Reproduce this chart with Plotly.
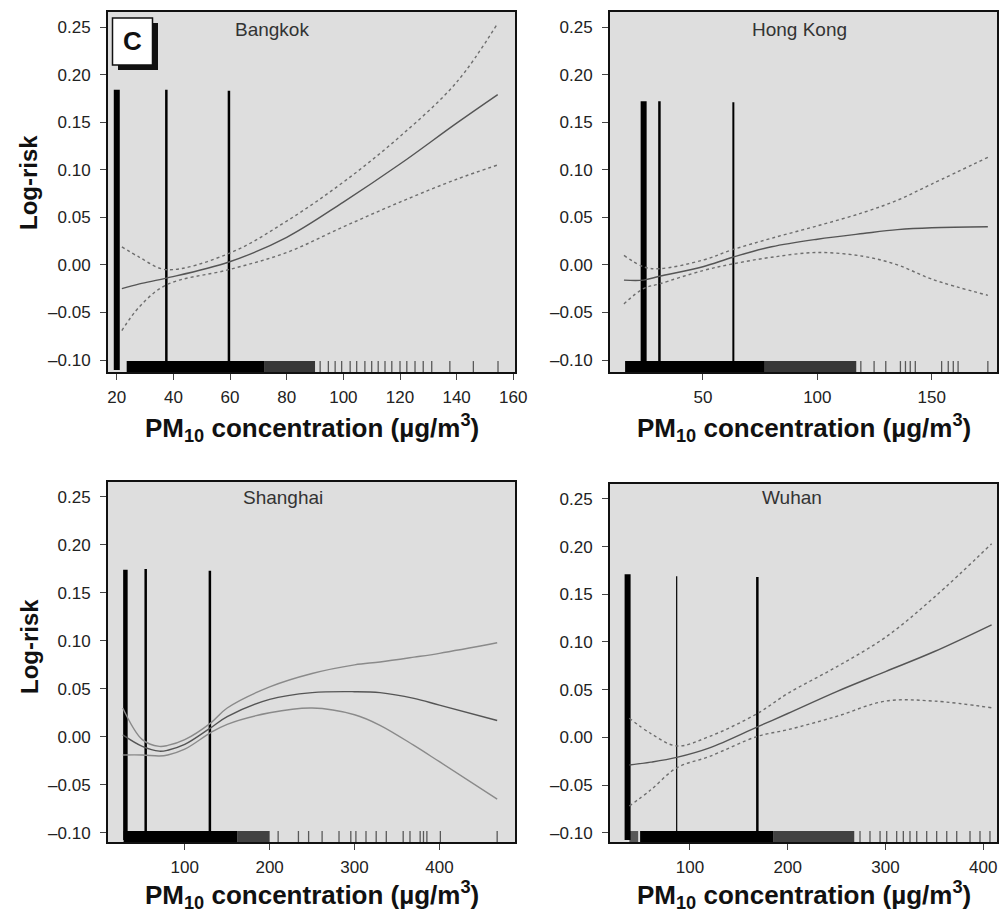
import plotly.graph_objects as go

W, H = 999, 917
FONT = "Liberation Sans, Arial, sans-serif"

cities = ["Bangkok", "Hong Kong", "Shanghai", "Wuhan"]

# ---- curve data (PM10 vs log-risk) ----
bkk_x = [21.8, 28, 37.5, 59.6, 80, 100, 120, 140, 154.5]
bkk_mid = [-0.025, -0.020, -0.014, 0.003, 0.029, 0.066, 0.106, 0.149, 0.179]
bkk_up = [0.019, 0.008, -0.005, 0.012, 0.046, 0.087, 0.135, 0.192, 0.254]
bkk_lo = [-0.069, -0.044, -0.021, -0.005, 0.013, 0.040, 0.066, 0.090, 0.105]

hk_x = [15.5, 24, 31, 50, 63, 80, 100, 120, 135, 150, 174.5]
hk_mid = [-0.016, -0.016, -0.012, -0.002, 0.008, 0.019, 0.027, 0.033, 0.037, 0.039, 0.040]
hk_up = [0.010, -0.002, -0.004, 0.005, 0.016, 0.028, 0.041, 0.055, 0.068, 0.085, 0.113]
hk_lo = [-0.041, -0.025, -0.020, -0.006, 0.001, 0.008, 0.013, 0.009, 0.000, -0.015, -0.032]

sh_x = [27, 50, 70, 80, 100, 130, 150, 200, 250, 300, 330, 370, 400, 468]
sh_mid = [0.002, -0.010, -0.015, -0.014, -0.008, 0.009, 0.021, 0.039, 0.046, 0.047, 0.046, 0.040, 0.033, 0.017]
sh_up = [0.030, -0.003, -0.010, -0.009, -0.003, 0.014, 0.030, 0.052, 0.066, 0.075, 0.078, 0.083, 0.087, 0.098]
sh_lo = [-0.019, -0.019, -0.020, -0.019, -0.013, 0.004, 0.013, 0.025, 0.030, 0.023, 0.012, -0.009, -0.026, -0.065]

wh_x = [38, 60, 86.4, 120, 168.9, 200, 250, 300, 350, 408.5]
wh_mid = [-0.029, -0.026, -0.021, -0.011, 0.011, 0.025, 0.048, 0.069, 0.090, 0.118]
wh_up = [0.020, 0.004, -0.009, 0.001, 0.025, 0.046, 0.074, 0.105, 0.147, 0.203]
wh_lo = [-0.072, -0.055, -0.032, -0.020, 0.001, 0.008, 0.022, 0.038, 0.038, 0.031]

# ---- vertical spike lines ----
bkk_vx = [20, 37.5, 59.6]
bkk_vtop = [0.184, 0.184, 0.183]
hk_vx = [24.1, 31.0, 63.3]
hk_vtop = [0.172, 0.172, 0.171]
sh_vx = [30.1, 54.0, 129.6]
sh_vtop = [0.174, 0.175, 0.173]
wh_vx = [36.2, 86.4, 168.9]
wh_vtop = [0.171, 0.169, 0.168]
vline_widths = {"Bangkok": [6, 2.5, 2.5], "Hong Kong": [6, 2.5, 2],
                "Shanghai": [4.5, 2.5, 2.5], "Wuhan": [6, 1.2, 2.5]}

# ---- rug data: dense bands (start, end, darkness) and individual ticks ----
bkk_bands = [(23.5, 72, 1.0), (72, 90, 0.75)]
bkk_rug = [91.8, 94.7, 97.1, 99.4, 102.4, 104.7, 107.6, 110, 112.3, 114.7, 117.1,
           120, 122.4, 125.3, 128.2, 131.2, 137.6, 145.9, 154.6]
hk_bands = [(16, 77, 1.0), (77, 117, 0.75)]
hk_rug = [119, 124.8, 129.9, 136.3, 138.5, 140.6, 142.8, 154.3, 157.2, 159.4, 161.5, 174.5]
sh_bands = [(28, 162, 1.0), (162, 200, 0.7)]
sh_rug = [210, 233.9, 245.9, 261.8, 281.7, 295.6, 301.6, 313.5, 325.5, 337.4, 357.3,
          365.3, 377.3, 381.2, 385.2, 401.1, 468]
wh_bands = [(38, 47, 0.6), (49, 185, 1.0), (185, 268, 0.7)]
wh_rug = [273.9, 284.1, 294.4, 301.2, 311.4, 318.2, 325, 331.9, 342.1, 352.3, 362.6,
          372.8, 386.4, 396.6, 406.8]

# ---- axes ----
y_ticks = [-0.10, -0.05, 0.00, 0.05, 0.10, 0.15, 0.20, 0.25]
y_ticktext = ["\u20130.10", "\u20130.05", "0.00", "0.05", "0.10", "0.15", "0.20", "0.25"]
x_ticks = {"Bangkok": [20, 40, 60, 80, 100, 120, 140, 160],
           "Hong Kong": [50, 100, 150],
           "Shanghai": [100, 200, 300, 400],
           "Wuhan": [100, 200, 300, 400]}
x_ranges = {"Bangkok": [16.9, 160.6], "Hong Kong": [9.4, 178.5],
            "Shanghai": [9.6, 489], "Wuhan": [18.2, 414]}
y_ranges = {"Bangkok": [-0.1126, 0.2658], "Hong Kong": [-0.1126, 0.2658],
            "Shanghai": [-0.1097, 0.2656], "Wuhan": [-0.1097, 0.2656]}

# pixel boxes (left, right, top, bottom)
boxes = {"Bangkok": (108, 515, 12, 372), "Hong Kong": (610, 997, 12, 372),
         "Shanghai": (108, 515, 482, 842), "Wuhan": (610, 997, 484, 842)}

data = {
    "Bangkok": (bkk_x, bkk_mid, bkk_up, bkk_lo, bkk_vx, bkk_vtop, bkk_bands, bkk_rug),
    "Hong Kong": (hk_x, hk_mid, hk_up, hk_lo, hk_vx, hk_vtop, hk_bands, hk_rug),
    "Shanghai": (sh_x, sh_mid, sh_up, sh_lo, sh_vx, sh_vtop, sh_bands, sh_rug),
    "Wuhan": (wh_x, wh_mid, wh_up, wh_lo, wh_vx, wh_vtop, wh_bands, wh_rug),
}

fig = go.Figure()
layout = dict(width=W, height=H, margin=dict(l=0, r=0, t=0, b=0, autoexpand=False),
              paper_bgcolor="white", showlegend=False, template="none")

ann = []
shapes = []

for i, c in enumerate(cities):
    k = "" if i == 0 else str(i + 1)
    xa, ya = "x" + k, "y" + k
    L, R, T, B = boxes[c]
    layout["xaxis" + k] = dict(
        domain=[L / W, R / W], range=x_ranges[c], anchor=ya, automargin=False,
        tickvals=x_ticks[c], ticks="outside", ticklen=6, tickwidth=1, tickcolor="#444",
        ticklabelstandoff=3,
        showline=True, linecolor="#111", linewidth=2, mirror=True,
        showgrid=False, zeroline=False,
        tickfont=dict(family=FONT, size=17, color="#222"))
    layout["yaxis" + k] = dict(
        domain=[1 - B / H, 1 - T / H], range=y_ranges[c], anchor=xa, automargin=False,
        tickvals=y_ticks, ticktext=y_ticktext, ticks="outside", ticklen=6,
        tickwidth=1, tickcolor="#444", ticklabelstandoff=6,
        showline=True, linecolor="#111", linewidth=2, mirror=True,
        showgrid=False, zeroline=False,
        tickfont=dict(family=FONT, size=17, color="#222"))

    xs, mid, up, lo, vx, vtop, bands, rug = data[c]
    ybot = y_ranges[c][0]
    rtop = ybot + 0.0115

    # rug bands
    for (a, b, alpha) in bands:
        fig.add_trace(go.Scatter(
            x=[a, b, b, a, a], y=[ybot, ybot, rtop, rtop, ybot], mode="lines",
            fill="toself", fillcolor=f"rgba(0,0,0,{alpha})", line=dict(width=0),
            xaxis=xa, yaxis=ya, hoverinfo="skip"))
    # rug ticks
    rx, ry = [], []
    for v in rug:
        rx += [v, v, None]
        ry += [ybot, rtop, None]
    fig.add_trace(go.Scatter(x=rx, y=ry, mode="lines",
                             line=dict(color="rgba(0,0,0,0.6)", width=1.3),
                             xaxis=xa, yaxis=ya, hoverinfo="skip"))
    # vertical spikes
    for v, t, w in zip(vx, vtop, vline_widths[c]):
        fig.add_trace(go.Scatter(x=[v, v], y=[ybot + 0.002, t], mode="lines",
                                 line=dict(color="#000", width=w),
                                 xaxis=xa, yaxis=ya, hoverinfo="skip"))
    # curves
    ci_dash = "solid" if c == "Shanghai" else "dot"
    ci_col = "#8a8a8a" if c == "Shanghai" else "#6e6e6e"
    for yy in (up, lo):
        fig.add_trace(go.Scatter(x=xs, y=yy, mode="lines", line_shape="spline",
                                 line=dict(color=ci_col, width=1.4, dash=ci_dash),
                                 xaxis=xa, yaxis=ya, hoverinfo="skip"))
    fig.add_trace(go.Scatter(x=xs, y=mid, mode="lines", line_shape="spline",
                             line=dict(color="#555", width=1.4),
                             xaxis=xa, yaxis=ya, hoverinfo="skip"))

    # panel title
    title_px = {"Bangkok": (272, 29), "Hong Kong": (799, 29),
                "Shanghai": (283, 497), "Wuhan": (792, 497)}[c]
    ann.append(dict(text=c, x=title_px[0] / W, y=1 - title_px[1] / H,
                    xref="paper", yref="paper", showarrow=False,
                    xanchor="center", yanchor="middle",
                    font=dict(family=FONT, size=19, color="#333")))
    # x-axis title
    ty = 428 if T < 100 else 895
    ann.append(dict(text="<b>PM<sub>10</sub> concentration (\u00b5g/m<sup>3</sup>)</b>",
                    x=((L + R) / 2) / W, y=1 - ty / H, xref="paper", yref="paper",
                    showarrow=False, xanchor="center", yanchor="middle",
                    font=dict(family=FONT, size=26, color="#111")))

# y-axis titles (left column)
for cy in (183, 647):
    ann.append(dict(text="<b>Log-risk</b>", x=29 / W, y=1 - cy / H, xref="paper",
                    yref="paper", showarrow=False, textangle=-90,
                    xanchor="center", yanchor="middle",
                    font=dict(family=FONT, size=24, color="#111")))

# "C" label box with drop shadow
shapes.append(dict(type="rect", xref="paper", yref="paper",
                   x0=118 / W, x1=158 / W, y0=1 - 70 / H, y1=1 - 23 / H,
                   fillcolor="#111", line=dict(width=0)))
shapes.append(dict(type="rect", xref="paper", yref="paper",
                   x0=112.5 / W, x1=152.5 / W, y0=1 - 65 / H, y1=1 - 18 / H,
                   fillcolor="white", line=dict(color="#111", width=1.5)))
ann.append(dict(text="<b>C</b>", x=132.5 / W, y=1 - 41.5 / H, xref="paper",
                yref="paper", showarrow=False, xanchor="center", yanchor="middle",
                font=dict(family=FONT, size=26, color="#111")))

layout["annotations"] = ann
layout["shapes"] = shapes
layout["plot_bgcolor"] = "#dedede"
fig.update_layout(**layout)
fig.write_html("out.html", config={"displayModeBar": False},
               post_script="document.body.style.margin='0';document.body.style.padding='0';")
